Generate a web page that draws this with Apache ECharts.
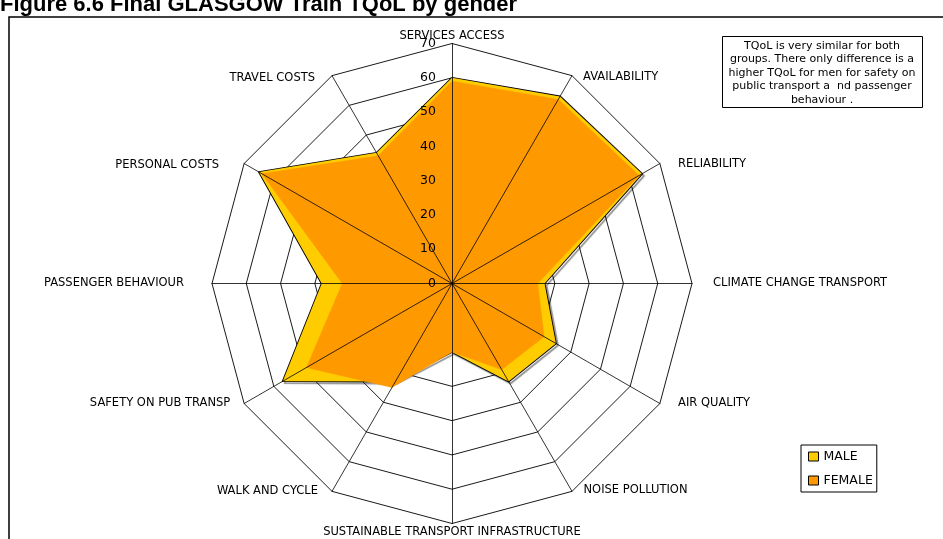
<!DOCTYPE html>
<html>
<head>
<meta charset="UTF-8">
<script src="https://cdn.jsdelivr.net/npm/echarts@6/dist/echarts.min.js"></script>
<title>GLASGOW Train TQoL by gender</title>
<style>html,body{margin:0;padding:0;background:#fff;}</style>
</head>
<body>
<div id="main" style="width:943px;height:539px;"></div>
<script>
// axes listed clockwise from the top, as in the picture
var dimensions = ['SERVICES ACCESS', 'AVAILABILITY', 'RELIABILITY', 'CLIMATE CHANGE TRANSPORT',
  'AIR QUALITY', 'NOISE POLLUTION', 'SUSTAINABLE TRANSPORT INFRASTRUCTURE', 'WALK AND CYCLE',
  'SAFETY ON PUB TRANSP', 'PASSENGER BEHAVIOUR', 'PERSONAL COSTS', 'TRAVEL COSTS'];
var maleValues   = [60, 63, 64, 27, 35, 33, 20, 33, 57, 38, 65, 44];
var femaleValues = [59, 62, 63, 25, 31, 29, 20, 35, 49, 32, 64, 43];
var axisMin = 0, axisMax = 70, axisSteps = 7;
var seriesNames = ['MALE', 'FEMALE'];
var noteText = 'TQoL is very similar for both\ngroups. There only difference is a\nhigher TQoL for men for safety on\npublic transport a  nd passenger\nbehaviour .';

var font = 'DejaVu Sans';

// name placement per axis (same clockwise order): gap from the outer ring and
// a vertical nudge in px (+ down), since excel stretched the web sideways
var nameGaps   = [1, 22, 21, 21, 21, 23, 3, 28, 16, 28, 29, 34];
var nameShifts = [0, 20, 11, 0, -11, -21, 0, -25, -8, 0, 16, 32];

// echarts draws radar axes counter-clockwise, so flip the order
function clockwise(arr) {
  return [arr[0]].concat(arr.slice(1).reverse());
}

var names = clockwise(dimensions);
var gaps = clockwise(nameGaps);
var shifts = clockwise(nameShifts);
var ringIndicators = names.map(function (n, i) {
  var ind = { name: n, min: axisMin, max: axisMax, nameGap: gaps[i], shiftPx: shifts[i] };
  if (shifts[i]) ind.nameTextStyle = { lineHeight: Math.abs(shifts[i]) * 2 };
  return ind;
});
var spokeIndicators = names.map(function (n, i) {
  return { name: n, min: axisMin, max: axisMax, axisLabel: { show: i === 0 } };
});

var chart = echarts.init(document.getElementById('main'));

var radarCenter = [452, 283.5];
var radarRadius = 240;

option = {
  animation: false,
  backgroundColor: '#fff',
  graphic: [
    { type: 'rect', shape: { x: 9, y: 17, width: 960, height: 560 },
      style: { fill: 'none', stroke: '#000', lineWidth: 1.5 } },
    // caption sits above the frame and is cut by the top of the picture
    { type: 'text', x: 0, y: 15.5,
      style: { text: 'Figure 6.6 Final GLASGOW Train TQoL by gender', font: 'bold 22px "Liberation Sans"', fill: '#000', verticalAlign: 'bottom' } },
    { type: 'rect', shape: { x: 722.5, y: 36.5, width: 200, height: 71 },
      style: { fill: '#fff', stroke: '#000', lineWidth: 1 } },
    { type: 'text', x: 822, y: 39.5,
      style: { text: noteText, font: '11px "' + font + '"', fill: '#000', align: 'center', verticalAlign: 'top', lineHeight: 13.4 } }
  ],
  legend: {
    data: [
      { name: seriesNames[0], itemStyle: { color: '#FFCC00', borderColor: '#000', borderWidth: 1 } },
      { name: seriesNames[1], itemStyle: { color: '#FF9900', borderColor: '#000', borderWidth: 1 } }
    ],
    orient: 'vertical',
    left: 801,
    top: 445,
    icon: 'rect',
    itemWidth: 10,
    itemHeight: 9,
    itemGap: 11,
    selectedMode: false,
    borderColor: '#000',
    borderWidth: 1,
    padding: [5, 4, 5, 7],
    textStyle: { fontFamily: font, fontSize: 12.5, color: '#000' }
  },
  radar: [
    {
      center: radarCenter,
      radius: radarRadius,
      startAngle: 90,
      shape: 'polygon',
      splitNumber: axisSteps,
      indicator: ringIndicators,
      axisName: {
        color: '#000', fontFamily: font, fontSize: 11.5,
        formatter: function (name, ind) {
          if (!ind.shiftPx) return name;
          return ind.shiftPx > 0 ? '\n' + name : name + '\n';
        }
      },
      axisLine: { show: false },
      splitLine: { lineStyle: { color: '#000', width: 0.9 } },
      splitArea: { show: false },
      z: 0
    },
    {
      center: radarCenter,
      radius: radarRadius,
      startAngle: 90,
      shape: 'polygon',
      splitNumber: axisSteps,
      indicator: spokeIndicators,
      axisName: { show: false },
      axisLine: { show: true, lineStyle: { color: '#000', width: 0.8 } },
      splitLine: { show: false },
      splitArea: { show: false },
      axisLabel: { show: false, color: '#000', fontFamily: font, fontSize: 12.5, margin: 16 },
      z: 5
    }
  ],
  series: [
    {
      type: 'radar',
      radarIndex: 0,
      symbol: 'none',
      data: [
        {
          name: seriesNames[0],
          value: clockwise(maleValues),
          itemStyle: { color: '#FFCC00' },
          lineStyle: { color: '#000', width: 1.8, shadowColor: 'rgba(0,0,0,0.45)', shadowOffsetX: 2, shadowOffsetY: 2, shadowBlur: 1 },
          areaStyle: { color: '#FFCC00', opacity: 1 }
        },
        {
          name: seriesNames[1],
          value: clockwise(femaleValues),
          itemStyle: { color: '#FF9900' },
          lineStyle: { color: '#FF9900', width: 0.5 },
          areaStyle: { color: '#FF9900', opacity: 1 }
        }
      ]
    }
  ]
};

chart.setOption(option);
</script>
</body>
</html>
